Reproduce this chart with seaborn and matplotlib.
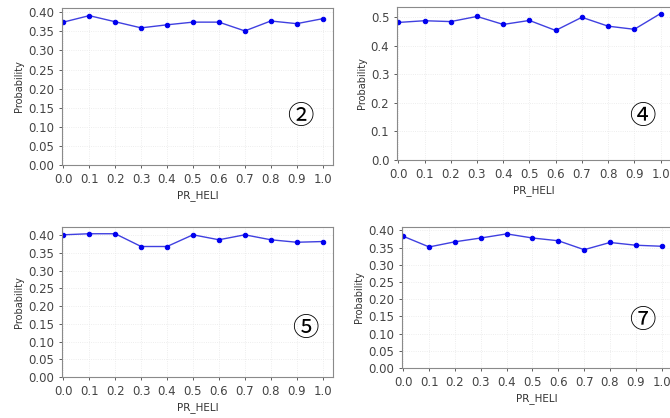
import numpy as np
import pandas as pd
import seaborn as sns
import matplotlib.pyplot as plt

sns.set_theme(style="white")
plt.rcParams["font.family"] = ["DejaVu Sans", "Noto Sans CJK JP"]

pr_heli = [0.0, 0.1, 0.2, 0.3, 0.4, 0.5, 0.6, 0.7, 0.8, 0.9, 1.0]
prob_2 = [0.374, 0.391, 0.375, 0.359, 0.367, 0.374, 0.374, 0.351, 0.377, 0.370, 0.383]
prob_4 = [0.481, 0.487, 0.484, 0.502, 0.474, 0.488, 0.453, 0.499, 0.468, 0.457, 0.512]
prob_5 = [0.401, 0.404, 0.404, 0.368, 0.368, 0.401, 0.387, 0.401, 0.387, 0.380, 0.382]
prob_7 = [0.383, 0.352, 0.367, 0.378, 0.390, 0.378, 0.370, 0.344, 0.365, 0.357, 0.354]

labels = ["②", "④", "⑤", "⑦"]
y_ticks = [
    np.arange(0, 0.41, 0.05),
    np.arange(0, 0.51, 0.1),
    np.arange(0, 0.41, 0.05),
    np.arange(0, 0.41, 0.05),
]
y_tops = [0.411, 0.535, 0.423, 0.41]
y_fmt = ["%.2f", "%.1f", "%.2f", "%.2f"]

# panel rects in pixels: left, top, right, bottom
W, H = 670, 418
rects = [(62, 8, 333, 165), (397, 7, 671, 160), (62, 227, 333, 377), (402, 227, 672, 368)]
tag_pos = [(300, 117), (642, 117), (305, 328), (642, 320)]

fig = plt.figure(figsize=(W / 100, H / 100), dpi=100)
fig.patch.set_facecolor("white")

for i, vals in enumerate([prob_2, prob_4, prob_5, prob_7]):
    l, t, r, b = rects[i]
    ax = fig.add_axes([l / W, (H - b) / H, (r - l) / W, (b - t) / H])
    df = pd.DataFrame({"PR_HELI": pr_heli, "Probability": vals})
    sns.lineplot(data=df, x="PR_HELI", y="Probability", ax=ax, color="#4040e0",
                 linewidth=1.0, marker="o", markersize=3.2, markerfacecolor="#0000ee",
                 markeredgecolor="#0000ee")
    ax.set_xlim(-0.005, 1.04)
    ax.set_ylim(0, y_tops[i])
    ax.set_xticks(pr_heli)
    ax.set_xticklabels(["%.1f" % v for v in pr_heli])
    ax.set_yticks(y_ticks[i])
    ax.set_yticklabels([y_fmt[i] % v for v in y_ticks[i]])
    ax.tick_params(axis="both", labelsize=8.5, colors="#444444", length=2.5, width=0.6,
                   direction="out", bottom=True, left=True, pad=3)
    ax.grid(True, color="#e8e8e8", linestyle=":", linewidth=0.6)
    for s in ax.spines.values():
        s.set_color("#8a8a8a")
        s.set_linewidth(0.8)
    ax.set_xlabel("PR_HELI", fontsize=7.5, color="#333333", labelpad=3)
    ax.set_ylabel("Probability", fontsize=7, color="#333333", labelpad=3)
    tx, ty = tag_pos[i]
    fig.text(tx / W, (H - ty) / H, labels[i], fontsize=19, ha="center", va="center",
             family=["DejaVu Serif", "Noto Sans CJK JP"], color="black")

fig.savefig("out.png", dpi=100)
